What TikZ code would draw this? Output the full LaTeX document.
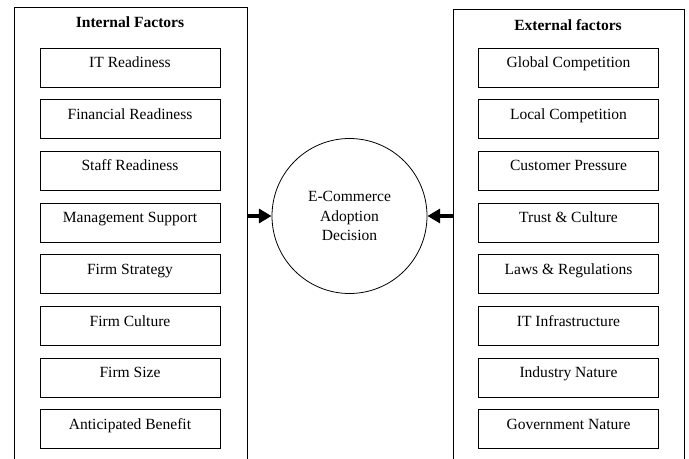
\documentclass[tikz,border=0pt]{standalone}
\usepackage{fontspec}
\setmainfont{Liberation Serif}
\usetikzlibrary{arrows.meta}

\begin{document}
\begin{tikzpicture}[
		x=0.75bp, y=-0.75bp,
		every node/.style={color=black},
		font=\fontsize{11.7}{14.5}\selectfont,
		]
		\tikzset{
			outerBox/.style={draw, line width=.7bp, minimum height=350bp, anchor=north, inner sep=0pt},
			factorBox/.style={draw, line width=.7bp, minimum width=135bp, minimum height=29.25bp, text height=4.5bp, text depth=4.5bp},
			titleText/.style={font=\fontsize{11.7}{14.5}\selectfont\bfseries},
			bigArrow/.style={line width=3.3bp, -{Triangle[length=9.5bp,width=10.5bp]}},
		}
		\useasboundingbox (0,0) rectangle (689,459);
		\clip (0,0) rectangle (689,459);
		
		\node[outerBox, minimum width=174.75bp] (internal) at (130.5,7) {};
		\node[outerBox, minimum width=173.25bp] (external) at (568.5,9) {};
		\node[titleText] (intTitle) at (130,22) {Internal Factors};
		\node[titleText] (extTitle) at (568,25) {External factors};
		
		\foreach \name [count=\i] in {IT Readiness, Financial Readiness, Staff Readiness, Management Support, Firm Strategy, Firm Culture, Firm Size, Anticipated Benefit}{
			\node[factorBox] (int\i) at (130,{67.5+51.7*(\i-1)}) {\name};
		}
		
		\foreach \name [count=\i] in {Global Competition, Local Competition, Customer Pressure, Trust \& Culture, Laws \& Regulations, IT Infrastructure, Industry Nature, Government Nature}{
			\node[factorBox] (ext\i) at (568.5,{67.5+51.7*(\i-1)}) {\name};
		}
		
		\node[draw, circle, line width=.6bp, minimum size=116.25bp, inner sep=0pt, align=center] (decision) at (349.5,216) {E-Commerce\\Adoption\\Decision};
		
		\draw[bigArrow] (internal.east |- decision) -- (decision.west);
		\draw[bigArrow] (external.west |- decision) -- (decision.east);
	\end{tikzpicture}
\end{document}
